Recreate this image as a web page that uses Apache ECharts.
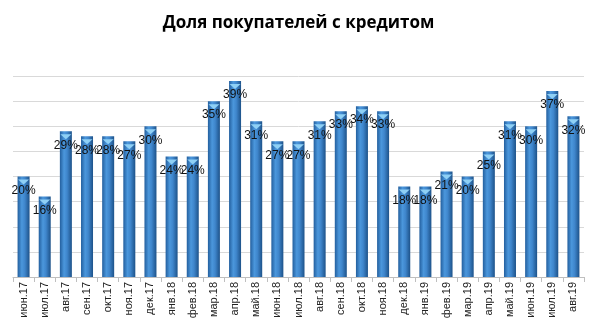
<!DOCTYPE html>
<html>
<head>
<meta charset="utf-8">
<script src="https://cdn.jsdelivr.net/npm/echarts@6/dist/echarts.min.js"></script>
<style>
  html, body { margin: 0; padding: 0; background: #fff; }
  #chart { width: 597px; height: 328px; }
</style>
</head>
<body>
<div id="chart"></div>
<script>
// Months (Russian abbreviations) and share of buyers with a loan, %
const months = ['июн.17','июл.17','авг.17','сен.17','окт.17','ноя.17','дек.17','янв.18','фев.18','мар.18','апр.18','май.18','июн.18','июл.18','авг.18','сен.18','окт.18','ноя.18','дек.18','янв.19','фев.19','мар.19','апр.19','май.19','июн.19','июл.19','авг.19'];
const shares = [20,16,29,28,28,27,30,24,24,35,39,31,27,27,31,33,34,33,18,18,21,20,25,31,30,37,32];
const chartTitle = 'Доля покупателей с кредитом';

const chart = echarts.init(document.getElementById('chart'));

const barFill = new echarts.graphic.LinearGradient(0, 0, 1, 0, [
  { offset: 0, color: '#235f9e' },
  { offset: 0.35, color: '#4b97dc' },
  { offset: 0.6, color: '#3f86cc' },
  { offset: 1, color: '#1d5289' }
]);

chart.setOption({
  animation: false,
  title: {
    text: chartTitle,
    left: 'center',
    top: 10,
    textStyle: { fontFamily: 'Open Sans, sans-serif', fontWeight: 'bold', fontSize: 17, color: '#000' }
  },
  grid: { left: 13, right: 13, top: 76, bottom: 51 },
  xAxis: {
    type: 'category',
    data: months,
    axisLine: { lineStyle: { color: '#bfbfbf' } },
    axisTick: { show: true, length: 5, lineStyle: { color: '#bfbfbf' } },
    axisLabel: {
      rotate: 90,
      interval: 0,
      margin: 5,
      fontFamily: 'Liberation Sans, Arial, sans-serif',
      fontSize: 11,
      color: '#222'
    }
  },
  yAxis: {
    type: 'value',
    min: 0,
    max: 40,
    interval: 5,
    axisLabel: { show: false },
    axisLine: { show: false },
    axisTick: { show: false },
    splitLine: { lineStyle: { color: '#d9d9d9' } }
  },
  series: [
    {
      type: 'bar',
      data: shares,
      barWidth: 12,
      itemStyle: { color: barFill },
      label: {
        show: true,
        position: 'insideTop',
        distance: 8,
        formatter: p => p.value + '%',
        fontFamily: 'Liberation Sans, Arial, sans-serif',
        fontSize: 12,
        color: '#111'
      },
      z: 2
    },
    {
      // light bevel cap on top of each bar
      type: 'pictorialBar',
      data: shares,
      symbol: 'triangle',
      symbolRotate: 180,
      symbolSize: [11, 5],
      symbolPosition: 'end',
      symbolOffset: [0, 3],
      itemStyle: { color: '#8fd0f5' },
      silent: true,
      z: 3
    }
  ]
});
</script>
</body>
</html>
